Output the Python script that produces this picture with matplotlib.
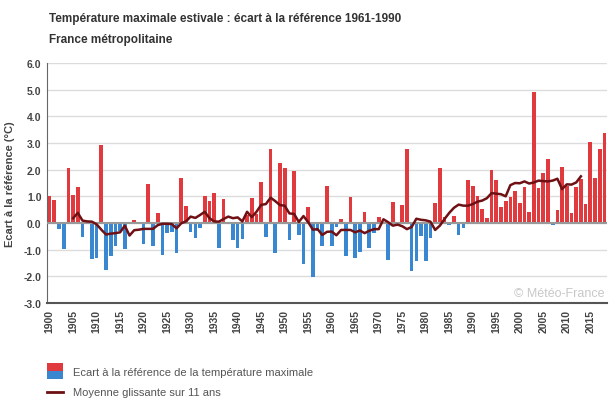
import numpy as np
import matplotlib
matplotlib.use("Agg")
import matplotlib.pyplot as plt
from matplotlib.patches import Rectangle
from matplotlib.lines import Line2D

plt.rcParams['font.family'] = ['Liberation Sans', 'DejaVu Sans']

first_year = 1900
anomaly = [
    1.02, 0.86, -0.21, -0.96, 2.06, 1.06, 1.36, -0.51, 0.05, -1.34,
    -1.30, 2.93, -1.75, -1.22, -0.85, -0.29, -0.96, 0.04, 0.11, 0.02,
    -0.78, 1.46, -0.85, 0.38, -1.19, -0.39, -0.35, -1.11, 1.69, 0.65,
    -0.33, -0.55, -0.18, 1.02, 0.83, 1.12, -0.94, 0.90, 0.04, -0.63,
    -0.93, -0.59, 0.30, 0.94, 0.34, 1.54, -0.51, 2.78, -1.11, 2.25,
    2.06, -0.63, 1.95, -0.44, -1.53, 0.60, -2.01, -0.29, -0.85, 1.39,
    -0.85, -0.14, 0.15, -1.22, 0.98, -1.30, -1.07, 0.41, -0.93, -0.36,
    0.22, -0.05, -1.38, 0.79, 0.02, 0.68, 2.78, -1.79, -1.41, -0.48,
    -1.41, -0.55, 0.75, 2.06, 0.22, -0.06, 0.26, -0.44, -0.18, 1.61,
    1.39, 1.01, 0.53, 0.19, 1.99, 1.61, 0.60, 0.83, 0.98, 1.20,
    0.75, 1.35, 0.41, 4.91, 1.31, 1.88, 2.40, -0.06, 0.49, 2.10,
    1.40, 0.38, 1.35, 1.65, 0.71, 3.04, 1.69, 2.78, 3.38,
]

ma_first_year = 1905
moving_avg = [
    0.18, 0.38, 0.09, 0.06, 0.05,
    -0.05, -0.25, -0.43, -0.40, -0.38, -0.35, -0.10, -0.47, -0.27, -0.25,
    -0.22, -0.22, -0.22, -0.08, -0.03, -0.03, -0.04, -0.20, -0.01, 0.06,
    0.24, 0.19, 0.30, 0.42, 0.18, 0.06, 0.05, 0.15, 0.24, 0.18,
    0.21, 0.06, 0.42, 0.22, 0.42, 0.68, 0.71, 0.95, 0.82, 0.67,
    0.65, 0.36, 0.34, 0.04, 0.26, 0.03, -0.25, -0.23, -0.45, -0.33,
    -0.32, -0.46, -0.26, -0.26, -0.26, -0.35, -0.28, -0.38, -0.29, -0.23,
    -0.23, 0.14, 0.03, -0.10, -0.06, -0.12, -0.23, -0.15, 0.16, 0.12,
    0.10, 0.05, -0.26, -0.10, 0.15, 0.38, 0.57, 0.69, 0.65, 0.65,
    0.71, 0.80, 0.84, 0.93, 1.12, 1.10, 1.08, 1.00, 1.42, 1.50,
    1.49, 1.56, 1.48, 1.52, 1.59, 1.57, 1.56, 1.59, 1.66, 1.27,
    1.45, 1.44, 1.52, 1.75,
]

yticks = [-3.0, -2.0, -1.0, 0.0, 1.0, 2.0, 3.0, 4.0, 5.0, 6.0]
xticks = list(range(1900, 2016, 5))

RED = '#e0393e'
BLUE = '#3a87d1'
LINE = '#6e1014'
TXT = '#444444'


def main():
    years = np.arange(first_year, first_year + len(anomaly))
    vals = np.array(anomaly)
    ma_years = np.arange(ma_first_year, ma_first_year + len(moving_avg))

    fig = plt.figure(figsize=(6.11, 4.02), dpi=100)
    ax = fig.add_axes([47 / 611, 98 / 402, 560 / 611, 240 / 402])

    colors = [RED if v >= 0 else BLUE for v in vals]
    ax.bar(years, vals, width=0.78, color=colors, zorder=2)
    ax.plot(ma_years, moving_avg, color=LINE, linewidth=1.8, zorder=4)

    ax.set_xlim(first_year - 0.55, years[-1] + 0.55)
    ax.set_ylim(-3, 6)
    ax.set_yticks(yticks)
    ax.set_yticklabels(['%.1f' % t for t in yticks])
    ax.set_xticks(xticks)
    ax.set_xticklabels([str(t) for t in xticks], rotation=90)

    ax.grid(True, axis='y', color='#dcdcdc', linewidth=1, zorder=0)
    ax.axhline(0, color='#999999', linewidth=1.5, zorder=3)
    for s in ['top', 'right']:
        ax.spines[s].set_visible(False)
    ax.spines['left'].set_color('#666666')
    ax.spines['bottom'].set_color('#555555')
    ax.spines['bottom'].set_linewidth(1.5)
    ax.tick_params(axis='both', length=0, labelsize=7.5, labelcolor=TXT, pad=4)
    for lab in ax.get_xticklabels() + ax.get_yticklabels():
        lab.set_fontweight('bold')

    ax.set_ylabel('Ecart à la référence (°C)', fontsize=8, fontweight='bold',
                  color=TXT, labelpad=6)

    ax.text(0.995, 0.04, '© Météo-France', transform=ax.transAxes,
            ha='right', va='center', fontsize=9, color='#c8c8c8', zorder=5)

    fig.text(49 / 611, 1 - 19 / 402, 'Température maximale estivale : écart à la référence 1961-1990',
             fontsize=8.5, fontweight='bold', color='#333333', va='center')
    fig.text(49 / 611, 1 - 40 / 402, 'France métropolitaine',
             fontsize=8.5, fontweight='bold', color='#333333', va='center')

    # legend drawn by hand (two-colour square + line)
    fig.add_artist(Rectangle((47 / 611, 1 - 372 / 402), 16 / 611, 8 / 402,
                             transform=fig.transFigure, color=RED, lw=0))
    fig.add_artist(Rectangle((47 / 611, 1 - 380 / 402), 16 / 611, 8 / 402,
                             transform=fig.transFigure, color=BLUE, lw=0))
    fig.text(73 / 611, 1 - 373 / 402, 'Ecart à la référence de la température maximale',
             fontsize=8, color='#555555', va='center')
    fig.add_artist(Line2D([47 / 611, 63 / 611], [1 - 393 / 402, 1 - 393 / 402],
                          transform=fig.transFigure, color=LINE, linewidth=2))
    fig.text(73 / 611, 1 - 393 / 402, 'Moyenne glissante sur 11 ans',
             fontsize=8, color='#555555', va='center')

    fig.savefig('out.png', dpi=100)


if __name__ == '__main__':
    main()
